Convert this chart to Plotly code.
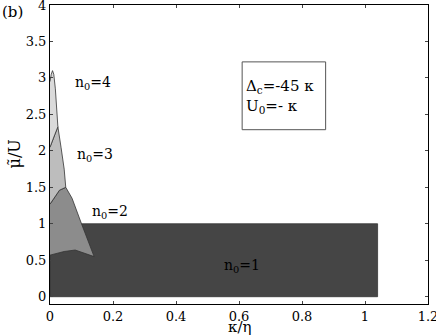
import plotly.graph_objects as go

# phase boundaries (kappa/eta, mu/U)
n1_x = [0, 1.04, 1.04, 0, 0]
n1_y = [0, 0, 1.0, 1.0, 0]

n2_x = [0, 0.02, 0.045, 0.08, 0.11, 0.14, 0.10, 0.07, 0.05, 0.03, 0.01, 0]
n2_y = [0.57, 0.59, 0.62, 0.64, 0.60, 0.55, 1.0, 1.35, 1.50, 1.46, 1.33, 1.27]

n3_x = [0, 0.01, 0.03, 0.05, 0.045, 0.035, 0.025, 0.015, 0.005, 0]
n3_y = [1.27, 1.33, 1.46, 1.50, 1.75, 2.05, 2.33, 2.22, 2.10, 2.05]

n4_x = [0, 0.005, 0.015, 0.025, 0.022, 0.017, 0.012, 0.008, 0.004, 0]
n4_y = [2.05, 2.10, 2.22, 2.33, 2.6, 2.85, 3.05, 3.10, 3.05, 2.95]

regions = [
    (n1_x, n1_y, '#454545'),
    (n2_x, n2_y, '#8c8c8c'),
    (n3_x, n3_y, '#bdbdbd'),
    (n4_x, n4_y, '#dadada'),
]

labels = ['n<sub>0</sub>=4', 'n<sub>0</sub>=3', 'n<sub>0</sub>=2', 'n<sub>0</sub>=1']
label_x = [0.137, 0.143, 0.19, 0.61]
label_y = [2.93, 1.95, 1.16, 0.42]

x_ticks = [0, 0.2, 0.4, 0.6, 0.8, 1, 1.2]
y_ticks = [0, 0.5, 1, 1.5, 2, 2.5, 3, 3.5, 4]

font = 'DejaVu Serif'
fig = go.Figure()

for xs, ys, col in regions:
    fig.add_trace(go.Scatter(
        x=xs, y=ys, mode='lines', fill='toself', fillcolor=col,
        line=dict(color='#333333', width=0.8), hoverinfo='skip'
    ))

for t, lx, ly in zip(labels, label_x, label_y):
    fig.add_annotation(x=lx, y=ly, text=t, showarrow=False,
                       font=dict(family=font, size=14, color='black'))

# parameter box
fig.add_shape(type='rect', x0=0.61, x1=0.875, y0=2.29, y1=3.22,
              line=dict(color='#555555', width=1), fillcolor='white')
fig.add_annotation(x=0.615, y=2.75, xanchor='left', align='left',
                   text='Δ<sub>c</sub>=-45 κ<br>U<sub>0</sub>=- κ',
                   showarrow=False, font=dict(family=font, size=15, color='black'))

fig.add_annotation(x=0, y=1, xref='paper', yref='paper', xshift=-50, yshift=4,
                   xanchor='left', yanchor='top', text='(b)', showarrow=False,
                   font=dict(family=font, size=15, color='black'))

# axis titles
fig.add_annotation(x=0.5, y=0, xref='paper', yref='paper', yshift=-12,
                   xanchor='center', yanchor='top', text='κ/η', showarrow=False,
                   font=dict(family=font, size=15, color='black'))
fig.add_annotation(x=0, y=0.5, xref='paper', yref='paper', xshift=-36,
                   xanchor='center', yanchor='middle', text='μ̃/U', textangle=-90,
                   showarrow=False, font=dict(family=font, size=16, color='black'))

axis_style = dict(
    ticks='inside', ticklen=3, mirror='ticks', showline=True, automargin=False,
    linecolor='black', linewidth=1, showgrid=False, zeroline=False,
    ticklabeloverflow='allow', tickfont=dict(family=font, size=13)
)

fig.update_layout(
    width=436, height=336,
    margin=dict(l=50, r=8, t=5, b=32),
    plot_bgcolor='white', paper_bgcolor='white',
    showlegend=False,
    font=dict(family=font, size=13, color='black'),
    xaxis=dict(range=[0, 1.2], tickvals=x_ticks,
               ticktext=[str(v) for v in x_ticks], **axis_style),
    yaxis=dict(range=[-0.1, 4], tickvals=y_ticks,
               ticktext=[str(v) for v in y_ticks], **axis_style),
)

# drop the page's default body margin so the figure sits at the window corner
fig.write_html('out.html', config={'displayModeBar': False},
               post_script="document.body.style.margin='0';")
